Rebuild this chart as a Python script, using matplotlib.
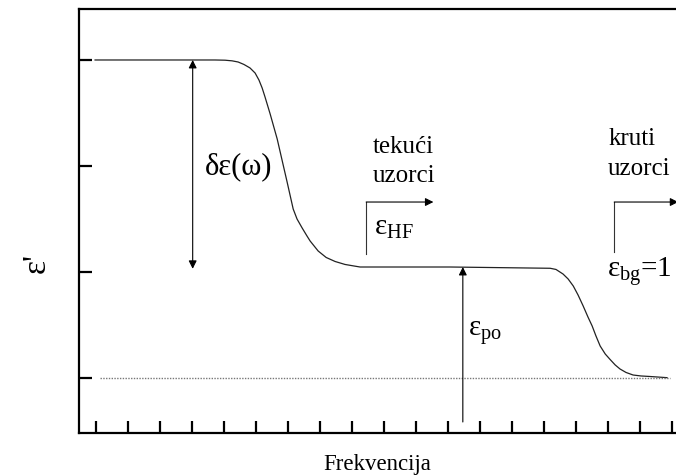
import matplotlib
matplotlib.use("Agg")
import matplotlib.pyplot as plt

plt.rcParams['font.family'] = ['Liberation Serif', 'DejaVu Serif']
plt.rcParams['mathtext.fontset'] = 'custom'
plt.rcParams['mathtext.rm'] = 'Liberation Serif'
plt.rcParams['mathtext.it'] = 'Liberation Serif:italic'

# Curve data (frequency index, epsilon')
freq = [-0.02, 3.73, 4.04, 4.26, 4.45, 4.63, 4.82, 4.98, 5.10, 5.20, 5.29,
        5.45, 5.67, 5.85, 5.98, 6.17, 6.29, 6.45, 6.60, 6.70, 6.95, 7.20,
        7.48, 7.79, 8.10, 8.26, 11.07, 14.20, 14.38, 14.60, 14.76, 14.92,
        15.07, 15.23, 15.38, 15.51, 15.63, 15.76, 15.92, 16.07, 16.23, 16.38,
        16.57, 16.79, 17.04, 17.32, 17.85]
eps = [4.000, 4.000, 3.998, 3.992, 3.981, 3.958, 3.925, 3.877, 3.811, 3.736,
       3.651, 3.491, 3.255, 3.019, 2.849, 2.594, 2.500, 2.415, 2.340, 2.292,
       2.198, 2.137, 2.099, 2.071, 2.055, 2.047, 2.047, 2.035, 2.024, 1.981,
       1.934, 1.868, 1.783, 1.679, 1.575, 1.491, 1.396, 1.302, 1.226, 1.175,
       1.123, 1.085, 1.052, 1.028, 1.019, 1.014, 1.003]

x_ticks = list(range(19))
y_ticks = [1, 2, 3, 4]
eps_bg = 1.0
eps_static = 4.0
eps_hf = 2.047

fig = plt.figure(figsize=(6.76, 4.77), dpi=100)
ax = fig.add_axes([79/676, 43/477, 1 - 79/676 + 0.01, 424/477])
ax.set_xlim(-0.522, 18.13 + 0.01 * 676 / 32)
ax.set_ylim(0.481, 4.481)

ax.plot(freq, eps, color='#222222', lw=0.9)
ax.plot([0.13, 17.95], [eps_bg, eps_bg], color='#777777', lw=1.0,
        linestyle=(0, (1, 1)))

ax.set_xticks(x_ticks)
ax.set_yticks(y_ticks)
ax.tick_params(direction='in', length=9, width=1.6, labelbottom=False,
               labelleft=False, color='black')
for s in ['left', 'bottom', 'top']:
    ax.spines[s].set_linewidth(1.6)
ax.spines['right'].set_visible(False)

ap = dict(arrowstyle='-|>', color='black', lw=0.8, shrinkA=0, shrinkB=0,
          mutation_scale=12)
# delta epsilon double arrow
ax.annotate('', xy=(3.03, eps_static), xytext=(3.03, 2.03),
            arrowprops=dict(ap, arrowstyle='<|-|>'))
ax.text(3.40, 3.0, 'δε(ω)', fontsize=22, va='center', ha='left')

# eps_po arrow
ax.annotate('', xy=(11.47, eps_hf), xytext=(11.47, 0.585), arrowprops=ap)
ax.text(11.62, 1.41, r'$\mathrm{ε}_{\mathrm{po}}$', fontsize=21,
        va='baseline', ha='left')

# tekuci bracket
ax.plot([8.45, 8.45], [2.17, 2.66], color='#333333', lw=0.8)
ax.annotate('', xy=(10.55, 2.66), xytext=(8.45, 2.66), arrowprops=ap)
ax.text(8.70, 2.358, r'$\mathrm{ε}_{\mathrm{HF}}$', fontsize=21,
        va='baseline', ha='left')
ax.text(8.67, 3.132, 'tekući', fontsize=18, va='baseline', ha='left')
ax.text(8.67, 2.858, 'uzorci', fontsize=18, va='baseline', ha='left')

# kruti bracket
ax.plot([16.2, 16.2], [2.19, 2.66], color='#333333', lw=0.8)
ax.annotate('', xy=(18.2, 2.66), xytext=(16.2, 2.66), arrowprops=ap,
            annotation_clip=False)
ax.text(15.98, 1.962, r'$\mathrm{ε}_{\mathrm{bg}}$=1', fontsize=21,
        va='baseline', ha='left')
ax.text(16.01, 3.208, 'kruti', fontsize=18, va='baseline', ha='left')
ax.text(16.01, 2.925, 'uzorci', fontsize=18, va='baseline', ha='left')

fig.text(37/676, 1 - 263/477, "ε'", fontsize=24, rotation=90, ha='center',
         va='center')
fig.text(377/676, 1 - 465/477, 'Frekvencija', fontsize=16.5, ha='center',
         va='center')

fig.savefig('out.png', dpi=100)
